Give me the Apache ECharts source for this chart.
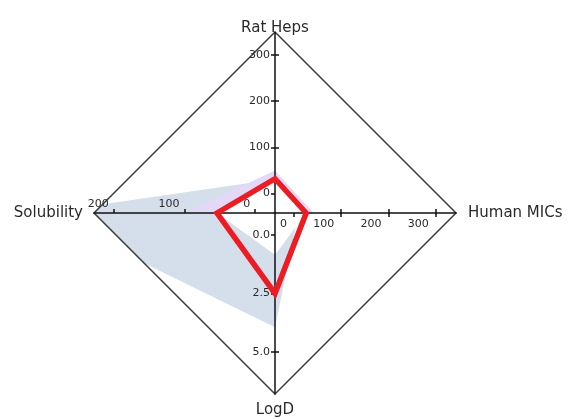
<!DOCTYPE html>
<html>
<head>
<meta charset="utf-8">
<script src="https://cdn.jsdelivr.net/npm/echarts@6/dist/echarts.min.js"></script>
<style>
  html, body { margin: 0; padding: 0; background: #fff; }
  #chart { width: 572px; height: 419px; }
</style>
</head>
<body>
<div id="chart"></div>
<script>
// Axis names: top, right, bottom, left
const axisNames = ['Rat Heps', 'Human MICs', 'LogD', 'Solubility'];

// Value span of each half-axis, from the centre out to the corner
const ratHepsRange = [-42, 349];
const humanMicsRange = [-40, 343];
const logDRange = [-0.94, 6.8];
const solubilityRange = [-28, 228];

// Tick values on each half-axis
const ratHepsTicks = [0, 100, 200, 300];
const humanMicsTicks = [0, 100, 200, 300];
const logDTicks = [0, 2.5, 5];
const solubilityTicks = [0, 100, 200];

// Profiles, ordered [Rat Heps, Human MICs, LogD, Solubility]
const rangeOuter = [31, 10, 3.95, 302];
const rangeSecondary = [50, 42, -0.9, 100];
const rangeInner = [32, 26, 0.85, 54];
const compound = [32, 26, 2.5, 54];

// Layout
const CX = 275, CY = 213, R = 181;
const FONT = 'DejaVu Sans';
const AXIS_COLOR = '#111';
const TEXT_COLOR = '#2a2a2a';

const chart = echarts.init(document.getElementById('chart'), null, { renderer: 'canvas' });

const lineStyle = { color: AXIS_COLOR, width: 1.5 };
const tickLabel = { fontFamily: FONT, fontSize: 11, color: TEXT_COLOR };
const nameStyle = { fontFamily: FONT, fontSize: 15, color: TEXT_COLOR };

function dummy(gridIndex) {
  return { gridIndex, type: 'value', min: 0, max: 1, show: false };
}

// Main half-axis with line, outer ticks and labels
function mainAxis(gridIndex, range, ticks, extra) {
  return Object.assign({
    gridIndex, type: 'value', min: range[0], max: range[1],
    axisLine: { show: true, onZero: false, lineStyle },
    axisTick: { show: true, inside: false, length: 4, customValues: ticks, lineStyle },
    splitLine: { show: false },
    nameTextStyle: nameStyle
  }, extra);
}

// Companion axis carrying the inner half of each cross tick
function tickAxis(gridIndex, range, ticks, position, inverse) {
  return {
    gridIndex, type: 'value', min: range[0], max: range[1], position, inverse: !!inverse,
    axisLine: { show: false, onZero: false },
    axisTick: { show: true, inside: true, length: 4, customValues: ticks, lineStyle },
    axisLabel: { show: false },
    splitLine: { show: false }
  };
}

function profilePoints(v) {
  return [
    chart.convertToPixel({ xAxisIndex: 0, yAxisIndex: 0 }, [0, v[0]]),
    chart.convertToPixel({ xAxisIndex: 2, yAxisIndex: 4 }, [v[1], 0]),
    chart.convertToPixel({ xAxisIndex: 1, yAxisIndex: 2 }, [0, v[2]]),
    chart.convertToPixel({ xAxisIndex: 4, yAxisIndex: 5 }, [v[3], 1])
  ];
}

const axisMaxima = [ratHepsRange[1], humanMicsRange[1], logDRange[1], solubilityRange[1]];

function profileSeries(name, values, z, style, clipToFrame) {
  return {
    type: 'custom', name, coordinateSystem: 'none', z, silent: true,
    data: [values],
    renderItem: function (params, api) {
      const v = [api.value(0), api.value(1), api.value(2), api.value(3)];
      const el = { type: 'polygon', shape: { points: profilePoints(v) }, style };
      if (clipToFrame) {
        el.clipPath = { type: 'polygon', shape: { points: profilePoints(axisMaxima) } };
      }
      return el;
    }
  };
}

const option = {
  animation: false,
  backgroundColor: '#fff',
  grid: [
    { left: CX, top: CY - R, width: 10, height: R, outerBoundsMode: 'none' },   // Rat Heps
    { left: CX, top: CY, width: 10, height: R, outerBoundsMode: 'none' },       // LogD
    { left: CX, top: CY - 10, width: R, height: 10, outerBoundsMode: 'none' },  // Human MICs
    { left: CX - R, top: CY, width: R, height: 10, outerBoundsMode: 'none' }    // Solubility
  ],
  xAxis: [
    dummy(0),
    dummy(1),
    mainAxis(2, humanMicsRange, humanMicsTicks, {
      position: 'bottom', z: 4,
      axisLabel: Object.assign({ customValues: humanMicsTicks, align: 'right', padding: [0, 7, 0, 0], margin: 6 }, tickLabel),
      name: axisNames[1], nameLocation: 'end', nameGap: 12
    }),
    tickAxis(2, humanMicsRange, humanMicsTicks, 'bottom'),
    mainAxis(3, solubilityRange, solubilityTicks, {
      position: 'top', inverse: true, z: 4,
      axisLabel: Object.assign({ customValues: solubilityTicks, align: 'right', padding: [0, 5, 0, 0], margin: 3 }, tickLabel),
      name: axisNames[3], nameLocation: 'end', nameGap: 11
    }),
    tickAxis(3, solubilityRange, solubilityTicks, 'top', true)
  ],
  yAxis: [
    mainAxis(0, ratHepsRange, ratHepsTicks, {
      position: 'left', z: 4,
      axisLabel: Object.assign({ customValues: ratHepsTicks, margin: 5 }, tickLabel),
      name: axisNames[0], nameLocation: 'end', nameGap: -4
    }),
    tickAxis(0, ratHepsRange, ratHepsTicks, 'left'),
    mainAxis(1, logDRange, logDTicks, {
      position: 'left', inverse: true, z: 4,
      axisLabel: Object.assign({
        customValues: logDTicks, margin: 5,
        formatter: function (v) { return v.toFixed(1); }
      }, tickLabel),
      name: axisNames[2], nameLocation: 'end', nameGap: 9
    }),
    tickAxis(1, logDRange, logDTicks, 'left', true),
    dummy(2),
    dummy(3)
  ],
  radar: {
    center: [CX, CY], radius: R, startAngle: 90, shape: 'polygon', splitNumber: 1, z: 4,
    indicator: [{ name: '', max: 1 }, { name: '', max: 1 }, { name: '', max: 1 }, { name: '', max: 1 }],
    axisName: { show: false },
    axisLine: { show: false },
    axisTick: { show: false },
    axisLabel: { show: false },
    splitArea: { show: false },
    splitLine: { lineStyle: { color: '#3c3c3c', width: 1.5 } }
  },
  series: [
    profileSeries('Range', rangeOuter, 1, { fill: '#d5dfec', stroke: 'none' }, true),
    profileSeries('Secondary', rangeSecondary, 2, { fill: '#e3d8f6', stroke: 'none' }, true),
    profileSeries('Inner', rangeInner, 3, { fill: '#ffffff', stroke: 'none' }, true),
    profileSeries('Compound', compound, 6, { fill: 'none', stroke: '#ec1c24', lineWidth: 5.5, lineJoin: 'miter' }, false)
  ]
};

chart.setOption(option);
</script>
</body>
</html>
